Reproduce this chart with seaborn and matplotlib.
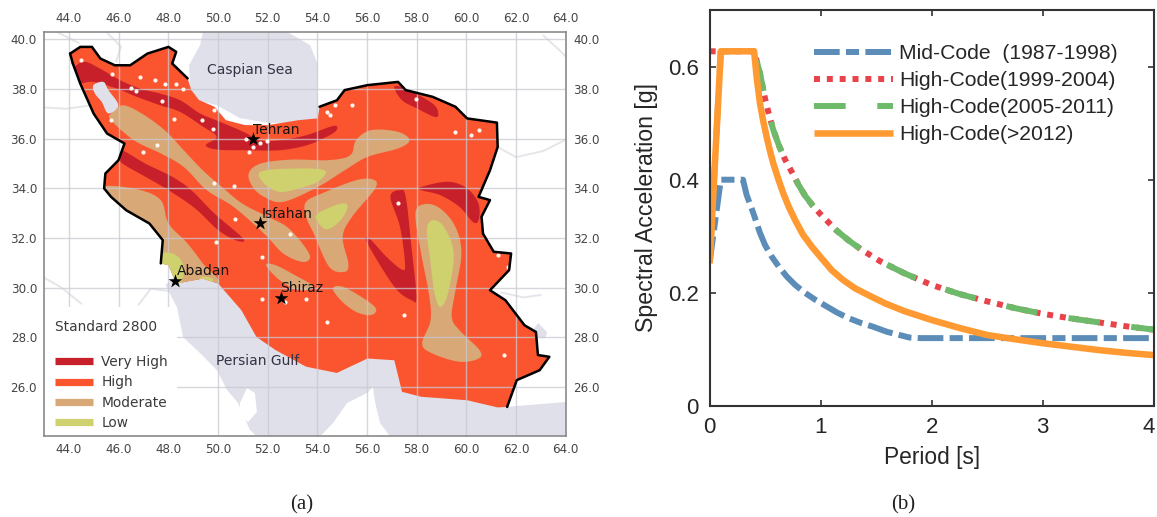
import numpy as np
import pandas as pd
import seaborn as sns
import matplotlib
matplotlib.use("Agg")
import matplotlib.pyplot as plt
from matplotlib.lines import Line2D
from matplotlib.patches import Polygon, Rectangle
from matplotlib.transforms import ScaledTranslation

# ---------- map data (lon, lat) ----------
IRAN = [(44.05,39.42),(44.46,39.69),(44.93,39.69),(45.27,39.22),(45.85,38.95),(46.47,38.95),(47.16,39.42),
        (48.01,39.69),(48.32,39.49),(48.16,39.02),(48.78,38.42),(48.93,37.95),(49.24,37.55),(49.86,37.28),
        (50.32,36.74),(51.09,36.54),(52.01,36.54),(53.25,36.74),(54.02,36.81),(54.09,37.28),(54.79,37.54),
        (55.10,37.95),(56.02,38.15),(57.25,38.28),(57.56,37.95),(58.64,37.68),(59.56,37.28),(60.03,36.81),
        (61.23,36.64),(61.26,35.66),(60.95,34.72),(60.49,33.65),(60.95,33.52),(60.61,32.85),(60.67,32.17),
        (61.10,31.44),(61.80,31.37),(61.72,30.70),(60.95,29.89),(61.57,29.49),(62.34,28.48),(62.80,28.21),
        (62.88,27.28),(63.34,27.21),(62.95,26.67),(62.03,26.27),(61.64,25.19),(61.26,25.17),(60.03,25.46),
        (58.18,25.60),(57.41,25.80),(57.10,27.07),(56.02,27.14),(54.79,26.56),(53.55,26.81),(52.32,27.48),
        (51.55,28.01),(50.94,29.09),(50.01,30.16),(49.39,30.36),(48.32,30.16),(48.01,30.90),(47.70,30.97),
        (47.78,31.91),(47.24,32.58),(46.31,33.11),(45.70,33.65),(45.42,33.99),(45.47,34.59),(46.00,35.13),
        (46.24,35.80),(45.54,36.20),(45.00,37.00),(44.46,38.21),(44.16,39.02)]
BORDER_EAST_SLICE = (19, 47)
BORDER_WEST_SLICE = (62, 75)
BORDER_NW_SLICE = (0, 11)

CASPIAN = [(49.40,40.30),(52.78,40.30),(53.71,39.76),(54.03,38.95),(53.99,37.87),(54.07,36.82),(53.59,36.66),
           (52.10,36.62),(50.89,36.82),(49.96,37.34),(49.16,37.54),(48.88,38.03),(48.84,38.95),(49.28,39.76)]
GULF = [(47.99,29.90),(48.35,29.21),(48.60,28.00),(49.28,27.36),(49.96,26.67),(50.37,25.87),(50.81,25.35),
        (51.29,24.26),(51.57,24.00),(54.11,24.00),(54.63,24.54),(55.20,25.35),(56.00,25.75),(56.24,25.99),
        (56.33,25.35),(56.53,24.54),(56.93,24.00),(64.00,24.00),(64.00,25.39),(62.56,25.27),(61.56,25.19),
        (57.50,26.50),(57.10,27.50),(50.00,31.00),(48.40,30.60),(47.90,30.10)]
QATAR = [(50.89,25.35),(51.17,25.95),(51.49,25.75),(51.57,24.98),(51.21,24.58),(50.89,24.86)]
URMIA = [(44.99,38.15),(45.39,38.28),(45.59,37.95),(45.99,37.34),(45.59,37.01),(45.32,37.48),(45.05,37.81)]
HAMUN = [(62.69,28.29),(62.89,28.57),(63.25,28.20),(63.17,27.96),(62.77,28.00)]

VERY_HIGH = [
    [(44.25,38.89),(44.65,39.09),(45.25,38.82),(46.06,38.35),(46.87,38.01),(47.67,37.81),(48.48,37.54),(49.28,37.01),
     (50.09,36.67),(51.03,36.27),(51.70,35.93),(52.50,35.93),(53.58,36.14),(54.65,36.51),(54.78,36.34),(54.38,36.07),
     (53.58,35.73),(52.50,35.53),(51.16,35.53),(50.00,35.55),(49.51,35.73),(49.95,36.07),(49.41,36.47),(48.48,37.07),
     (47.67,37.34),(46.73,37.68),(45.93,38.01),(44.99,38.28),(44.38,38.22),(44.18,38.55)],
    [(57.10,38.08),(57.56,38.01),(58.64,37.41),(58.87,37.01),(58.72,36.87),(58.02,37.21),(57.41,37.54)],
    [(46.13,35.53),(47.08,34.99),(48.16,34.46),(48.93,33.92),(49.86,32.98),(51.01,31.98),(50.78,31.88),(50.01,32.31),
     (49.09,33.18),(48.01,33.92),(47.08,34.46),(46.16,34.99),(46.00,35.26)],
    [(56.94,33.65),(57.33,33.92),(57.56,33.65),(57.79,31.64),(57.99,29.62),(57.79,29.49),(57.10,30.03),(56.02,31.77),
     (56.10,31.97),(56.79,31.23),(57.41,30.72),(57.53,30.97),(57.33,32.44)],
    [(58.18,34.05),(59.26,34.26),(60.03,33.99),(60.49,33.38),(60.49,32.71),(60.26,32.64),(59.72,33.25),(58.95,33.72),
     (58.18,33.92)],
]
MODERATE = [
    [(45.70,37.01),(46.16,37.34),(46.93,37.01),(47.85,36.34),(48.62,35.53),(49.39,34.72),(50.16,34.05),(50.98,33.38),
     (52.01,32.85),(52.78,32.44),(53.40,31.77),(53.71,31.23),(53.40,31.03),(52.63,31.37),(51.86,32.17),(50.63,33.25),
     (49.55,33.92),(48.62,34.86),(47.70,35.40),(46.62,35.93),(45.70,36.74)],
    [(51.24,34.59),(51.71,34.99),(52.94,35.15),(54.48,35.13),(55.33,35.33),(55.56,35.93),(56.17,36.34),(57.25,36.27),
     (57.71,35.93),(57.25,35.60),(56.02,35.26),(55.10,34.72),(54.02,34.05),(52.63,33.45),(51.86,33.65),(51.40,34.05)],
    [(53.55,33.45),(54.33,33.85),(55.56,34.32),(56.25,34.35),(56.33,33.99),(55.40,32.85),(55.02,32.04),(55.25,30.97),
     (55.10,30.63),(54.48,30.83),(53.86,32.17),(53.55,32.85)],
    [(45.47,34.08),(46.78,33.95),(47.70,33.52),(48.01,32.58),(48.78,31.77),(49.39,30.97),(50.01,30.16),(48.32,30.03),
     (47.70,30.83),(47.70,32.04),(46.31,33.05),(45.62,33.65)],
    [(51.94,30.90),(52.32,30.90),(53.09,30.50),(53.86,30.03),(53.25,29.89),(52.48,30.30)],
    [(54.63,29.96),(55.02,30.03),(55.87,29.56),(56.36,29.15),(56.17,28.89),(55.56,29.02),(54.94,29.49)],
    [(57.95,32.98),(58.33,33.36),(58.95,33.18),(59.56,32.44),(59.80,31.37),(59.56,29.89),(59.41,28.82),(59.72,28.28),
     (60.53,27.48),(60.49,27.14),(59.72,27.01),(58.64,27.34),(58.22,27.74),(58.56,28.68),(58.49,29.76),(58.18,31.37)],
]
LOW = [
    [(51.71,34.66),(52.94,34.79),(54.29,34.72),(54.02,34.26),(53.25,33.99),(52.48,33.85),(51.86,34.19)],
    [(54.02,32.98),(54.94,33.38),(55.22,33.25),(54.94,32.71),(54.40,32.34),(54.02,32.64)],
    [(58.41,32.31),(58.64,32.71),(59.10,32.44),(59.49,31.37),(59.26,29.76),(58.95,29.22),(58.72,29.76),(58.56,30.97)],
    [(47.78,31.37),(48.32,31.30),(48.62,30.83),(48.47,30.16),(47.85,30.70)],
    [(49.32,30.43),(49.78,30.36),(49.70,30.16),(49.32,30.16)],
]
OTHER_BORDERS = [
    [(43.00,37.25),(43.90,37.20),(45.00,37.35)],
    [(43.00,30.40),(43.70,30.00),(44.50,29.35)],
    [(46.80,29.30),(47.30,29.95),(48.10,29.85)],
    [(61.26,35.66),(62.00,35.25),(63.10,35.50),(64.00,35.95)],
    [(63.10,40.15),(63.75,39.55),(64.00,39.30)],
    [(43.50,40.30),(44.40,39.85)],
    [(45.50,40.30),(46.10,39.70),(45.90,39.10)],
    [(61.40,29.80),(62.30,29.60),(63.00,29.70)],
]
SPECK_LON = [44.48,45.72,46.87,47.47,47.87,48.31,48.58,46.49,46.70,47.74,48.25,49.37,49.82,49.84,51.13,51.43,51.70,
             51.97,51.27,54.38,54.71,54.52,45.68,47.00,47.56,49.86,50.63,50.70,52.89,49.93,51.78,61.26,61.69,59.56,
             60.18,60.49,57.25,57.48,61.53,54.40,51.78,53.55,52.71,55.40,57.98]
SPECK_LAT = [39.18,38.58,38.48,38.35,38.21,38.21,38.01,38.04,37.92,37.50,36.78,36.74,36.40,37.14,36.00,35.67,35.80,
             35.91,35.44,37.05,37.34,36.94,36.74,35.46,35.73,34.19,34.08,32.74,32.17,31.84,31.23,31.30,30.83,36.27,
             36.13,36.34,33.42,28.89,27.28,28.62,29.52,29.52,29.42,37.34,37.61]
CITY_NAMES = ["Tehran", "Isfahan", "Abadan", "Shiraz"]
CITY_LON = [51.40, 51.71, 48.29, 52.52]
CITY_LAT = [36.00, 32.60, 30.27, 29.58]
CITY_LABEL_LON = [51.43, 51.75, 48.36, 52.52]
CITY_LABEL_LAT = [36.36, 32.98, 30.67, 30.00]
MAP_XTICKS = [44, 46, 48, 50, 52, 54, 56, 58, 60, 62, 64]
MAP_YTICKS = [26, 28, 30, 32, 34, 36, 38, 40]
ZONE_NAMES = ["Very High", "High", "Moderate", "Low"]

# ---------- spectra ----------
T_MID = [0, 0.1, 0.3, 0.333, 0.393, 0.453, 0.50, 0.559, 0.62, 0.694, 0.77, 0.859, 0.95, 1.054, 1.15, 1.249, 1.36, 1.474, 1.6, 1.8, 1.9, 2.5, 3.0, 4.0]
SA_MID = [0.255, 0.40, 0.40, 0.373, 0.341, 0.306, 0.284, 0.264, 0.247, 0.229, 0.214, 0.20, 0.188, 0.176, 0.165, 0.1555, 0.147, 0.14, 0.131, 0.121, 0.12, 0.12, 0.12, 0.12]
T_HIGH = [0.4, 0.453, 0.498, 0.528, 0.573, 0.625, 0.678, 0.739, 0.80, 0.859, 0.925, 0.994, 1.144, 1.25, 1.37, 1.535, 1.75, 2.0, 2.25, 2.5, 2.75, 3.0, 3.25, 3.5, 3.75, 4.0]
SA_HIGH = [0.627, 0.588, 0.544, 0.52, 0.488, 0.46, 0.436, 0.414, 0.391, 0.372, 0.355, 0.34, 0.31, 0.293, 0.276, 0.256, 0.235, 0.214, 0.198, 0.185, 0.173, 0.163, 0.155, 0.148, 0.141, 0.135]
T_RED = [0.0, 0.1] + T_HIGH
SA_RED = [0.627, 0.627] + SA_HIGH
T_GREEN = [0.0, 0.1] + T_HIGH
SA_GREEN = [0.255, 0.627] + SA_HIGH
T_NEW = [0, 0.1, 0.4, 0.425, 0.453, 0.483, 0.513, 0.543, 0.573, 0.62, 0.663, 0.715, 0.769, 0.84, 0.919, 1.0, 1.1, 1.2, 1.31, 1.45, 1.58, 1.75, 2.0, 2.25, 2.5, 2.75, 3.0, 3.25, 3.5, 3.75, 4.0]
SA_NEW = [0.252, 0.627, 0.627, 0.578, 0.535, 0.503, 0.476, 0.451, 0.429, 0.40, 0.376, 0.351, 0.329, 0.303, 0.282, 0.263, 0.24, 0.223, 0.208, 0.194, 0.1815, 0.168, 0.152, 0.138, 0.1255, 0.118, 0.111, 0.105, 0.099, 0.094, 0.09]
CODE_LABELS = ["Mid-Code  (1987-1998)", "High-Code(1999-2004)", "High-Code(2005-2011)", "High-Code(>2012)"]

W, H = 1157, 517
sns.set_theme(style="white")
plt.rcParams["font.family"] = ["DejaVu Sans"]
fig = plt.figure(figsize=(W / 100, H / 100), dpi=100, facecolor="white")

# ---------- panel (a) ----------
ax = fig.add_axes([44 / W, 1 - 436 / H, 522 / W, 404 / H])
ax.set_xlim(43, 64.01)
ax.set_ylim(24.02, 40.29)
SEA = "#dfe0ea"
HIGH_C, VH_C, MOD_C, LOW_C = "#fb5530", "#c8202a", "#d9a877", "#cfd06e"
GRID_C = "#c9c9d2"


def smooth(poly, k=8):
    """Closed Catmull-Rom curve through the traced outline points."""
    p = np.asarray(poly, float)
    u = np.linspace(0, 1, k, endpoint=False)[:, None]
    out = []
    for i in range(len(p)):
        a, b, c, d = p[i - 1], p[i], p[(i + 1) % len(p)], p[(i + 2) % len(p)]
        out.append(0.5 * (2 * b + (c - a) * u + (2 * a - 5 * b + 4 * c - d) * u ** 2 + (3 * b - a - 3 * c + d) * u ** 3))
    return np.vstack(out)


for b in OTHER_BORDERS:
    xy = np.asarray(b)
    ax.plot(xy[:, 0], xy[:, 1], color="#e6e6ea", lw=1.4, zorder=1)
ax.add_patch(Polygon(CASPIAN, closed=True, fc=SEA, ec="none", zorder=1.5))
ax.add_patch(Polygon(GULF, closed=True, fc=SEA, ec="none", zorder=1.5))
ax.add_patch(Polygon(HAMUN, closed=True, fc=SEA, ec="none", zorder=1.5))
ax.add_patch(Polygon(QATAR, closed=True, fc="white", ec="none", zorder=1.6))
iran = Polygon(IRAN, closed=True, fc=HIGH_C, ec="none", zorder=2)
ax.add_patch(iran)
for zones, col, z in ((VERY_HIGH, VH_C, 2.2), (MODERATE, MOD_C, 2.4), (LOW, LOW_C, 2.6)):
    for poly in zones:
        patch = Polygon(smooth(poly), closed=True, fc=col, ec="none", zorder=z)
        ax.add_patch(patch)
        patch.set_clip_path(iran)
ax.add_patch(Polygon(smooth(URMIA), closed=True, fc=SEA, ec="none", zorder=2.8))
sns.scatterplot(x=SPECK_LON, y=SPECK_LAT, ax=ax, color="#fff6ee", s=9, linewidth=0, zorder=2.9, legend=False)

arr = np.asarray(IRAN)
for a, b in (BORDER_EAST_SLICE, BORDER_WEST_SLICE, BORDER_NW_SLICE):
    ax.plot(arr[a:b, 0], arr[a:b, 1], color="black", lw=1.8, zorder=3.2, solid_joinstyle="round")
ax.plot([arr[74, 0], arr[0, 0]], [arr[74, 1], arr[0, 1]], color="black", lw=1.8, zorder=3.2)

ax.set_xticks(MAP_XTICKS)
ax.set_yticks(MAP_YTICKS)
ax.set_xticklabels([f"{v:.1f}" for v in MAP_XTICKS])
ax.set_yticklabels([f"{v:.1f}" for v in MAP_YTICKS])
ax.grid(True, color=GRID_C, lw=1.0, alpha=0.75, zorder=3)
ax.set_axisbelow(False)
for line in ax.get_xgridlines() + ax.get_ygridlines():
    line.set_zorder(3)
ax.tick_params(length=0, labelsize=8.6, labelcolor="#444444", pad=5,
               top=True, right=True, labeltop=True, labelright=True, bottom=True, left=True)
for s in ax.spines.values():
    s.set_color("#8a8a8a")
    s.set_linewidth(1.2)
    s.set_zorder(6)

ax.add_patch(Rectangle((43, 24.02), 5.35, 5.2, fc="white", ec="none", zorder=3.5))
ax.text(43.45, 28.42, "Standard 2800", fontsize=9.9, color="#3a3a3a", ha="left", va="center", zorder=5)
handles = [Line2D([], [], color=c, lw=5.2, solid_capstyle="butt") for c in (VH_C, HIGH_C, MOD_C, LOW_C)]
leg = ax.legend(handles, ZONE_NAMES, loc="lower left", bbox_to_anchor=(43.45, 24.25), bbox_transform=ax.transData,
                frameon=False, fontsize=9.9, labelspacing=0.47, handlelength=2.75, handletextpad=0.6,
                borderpad=0, borderaxespad=0, labelcolor="#3a3a3a")
leg.set_zorder(5)

sns.scatterplot(x=CITY_LON, y=CITY_LAT, ax=ax, marker="*", color="black", s=110, linewidth=0, zorder=4, legend=False)
for name, x, y in zip(CITY_NAMES, CITY_LABEL_LON, CITY_LABEL_LAT):
    ax.text(x, y, name, fontsize=10, color="#141414", ha="left", va="center", zorder=5)
ax.text(51.27, 38.75, "Caspian Sea", fontsize=10, color="#333344", ha="center", va="center", zorder=5)
ax.text(51.58, 27.05, "Persian Gulf", fontsize=10, color="#333344", ha="center", va="center", zorder=5)

# ---------- panel (b) ----------
bx = fig.add_axes([709.7 / W, 1 - 406 / H, 443.9 / W, 396 / H])
LW = 4.3
series = [
    (T_MID, SA_MID, "#5b8db8", LW, (0, (4.3, 1.05, 2.2, 1.05))),
    (T_RED, SA_RED, "#e8434a", LW, (0, (1.0, 1.15))),
    (T_GREEN, SA_GREEN, "#6dbb6a", LW, (0, (5.3, 5.3))),
    (T_NEW, SA_NEW, "#ff9a33", 4.7, "-"),
]
for t, sa, col, lw, ls in series:
    frame = pd.DataFrame({"period": t, "sa": sa})
    sns.lineplot(data=frame, x="period", y="sa", ax=bx, color=col, lw=lw, linestyle=ls, sort=False,
                 errorbar=None, dash_capstyle="butt", solid_capstyle="butt", solid_joinstyle="round", clip_on=True)
bx.set_xlim(0, 4)
bx.set_ylim(0, 0.7)
bx.set_xticks([0, 1, 2, 3, 4])
bx.set_xticklabels(["0", "1", "2", "3", "4"])
bx.set_yticks([0, 0.2, 0.4, 0.6])
bx.set_yticklabels(["0", "0.2", "0.4", "0.6"])
SANS = ["Liberation Sans", "DejaVu Sans"]
for t in bx.get_xticklabels() + bx.get_yticklabels():
    t.set_fontfamily(SANS)
bx.tick_params(direction="in", length=4, width=1.2, color="#333333", labelsize=16, labelcolor="#262626",
               top=True, right=True, bottom=True, left=True, pad=8, labelbottom=True)
last = bx.get_xticklabels()[-1]
last.set_transform(last.get_transform() + ScaledTranslation(-4.5 / 100, 0, fig.dpi_scale_trans))
bx.set_xlabel("Period [s]", fontsize=16.4, family=SANS, color="#262626", labelpad=6)
bx.set_ylabel("Spectral Acceleration [g]", fontsize=16.7, family=SANS, color="#262626", labelpad=7)
for s in bx.spines.values():
    s.set_color("#333333")
    s.set_linewidth(1.5)
lines = bx.get_lines()[:4]
bx.legend(lines, CODE_LABELS, loc="upper left", bbox_to_anchor=((813.5 - 709.7) / 443.9, (406 - 44) / 396),
          frameon=False, prop={"family": SANS, "size": 15.2}, labelspacing=0.38, handlelength=3.77, handletextpad=0.3,
          borderpad=0, borderaxespad=0, labelcolor="#262626")

fig.text(302 / W, 1 - 505 / H, "(a)", fontsize=15, family="Liberation Serif", ha="center", va="center", color="#222222")
fig.text(903 / W, 1 - 505 / H, "(b)", fontsize=15, family="Liberation Serif", ha="center", va="center", color="#222222")
fig.savefig("out.png", dpi=100, facecolor="white")
